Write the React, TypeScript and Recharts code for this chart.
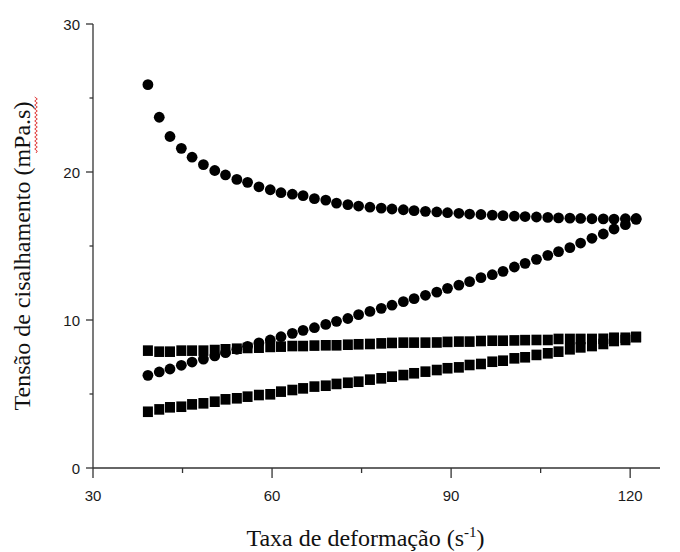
import { ScatterChart, Scatter, XAxis, YAxis, Label } from 'recharts';

// shear rate (s^-1), same grid for every series
const rates = [
  39.2, 41.1, 42.9, 44.8, 46.6, 48.5, 50.4, 52.2, 54.1, 55.9, 57.8, 59.7, 61.5, 63.4, 65.2,
  67.1, 69.0, 70.8, 72.7, 74.5, 76.4, 78.3, 80.1, 82.0, 83.8, 85.7, 87.6, 89.4, 91.3, 93.1,
  95.0, 96.9, 98.7, 100.6, 102.4, 104.3, 106.2, 108.0, 109.9, 111.7, 113.6, 115.5, 117.3, 119.2, 121.0,
];

// circles, descending curve
const circlesDown = [
  25.9, 23.7, 22.4, 21.6, 21.0, 20.5, 20.1, 19.8, 19.5, 19.3, 19.0, 18.8, 18.6, 18.5, 18.4,
  18.2, 18.1, 17.9, 17.8, 17.7, 17.62, 17.56, 17.5, 17.45, 17.39, 17.34, 17.3, 17.25, 17.21, 17.16,
  17.13, 17.09, 17.05, 17.02, 16.99, 16.96, 16.93, 16.9, 16.88, 16.86, 16.84, 16.83, 16.82, 16.84, 16.86,
];

// circles, ascending curve
const circlesUp = [
  6.26, 6.49, 6.69, 6.94, 7.16, 7.36, 7.57, 7.79, 8.02, 8.22, 8.45, 8.65, 8.87, 9.1, 9.3,
  9.48, 9.7, 9.91, 10.1, 10.36, 10.58, 10.79, 11.0, 11.24, 11.44, 11.67, 11.88, 12.14, 12.36, 12.59,
  12.86, 13.06, 13.29, 13.58, 13.83, 14.1, 14.37, 14.62, 14.89, 15.2, 15.52, 15.81, 16.15, 16.44, 16.8,
];

// squares, upper (almost flat)
const squaresTop = [
  7.93, 7.86, 7.86, 7.93, 7.93, 7.93, 7.97, 8.02, 8.06, 8.11, 8.13, 8.18, 8.2, 8.24, 8.24,
  8.27, 8.29, 8.29, 8.33, 8.36, 8.38, 8.42, 8.45, 8.47, 8.47, 8.47, 8.48, 8.52, 8.54, 8.54,
  8.58, 8.6, 8.6, 8.62, 8.64, 8.65, 8.65, 8.72, 8.72, 8.72, 8.72, 8.73, 8.8, 8.8, 8.85,
];

// squares, lower (rising)
const squaresBottom = [
  3.8, 3.96, 4.1, 4.14, 4.3, 4.37, 4.48, 4.64, 4.71, 4.82, 4.93, 4.98, 5.16, 5.27, 5.38,
  5.5, 5.56, 5.68, 5.76, 5.83, 5.97, 6.06, 6.17, 6.28, 6.4, 6.51, 6.62, 6.74, 6.8, 6.96,
  7.03, 7.18, 7.25, 7.41, 7.48, 7.64, 7.75, 7.86, 8.02, 8.15, 8.24, 8.38, 8.58, 8.65, 8.85,
];

const xTicks = [30, 45, 60, 75, 90, 105, 120];
const yTicks = [0, 5, 10, 15, 20, 25, 30];

const INK = '#333';
const tickFont = '"Liberation Sans", Arial, sans-serif';
const titleFont = '"Liberation Serif", "Times New Roman", serif';

const toPoints = (ys: number[]) => rates.map((x, i) => ({ x, y: ys[i] }));

function CircleDot(props: any) {
  const { cx, cy } = props;
  return <circle cx={cx} cy={cy} r={5.4} fill="#000" />;
}

function SquareDot(props: any) {
  const { cx, cy } = props;
  return <rect x={cx - 5} y={cy - 5.3} width={10} height={10.6} fill="#000" />;
}

function XTick(props: any) {
  const { x, y, payload } = props;
  const major = payload.value % 30 === 0;
  return (
    <g>
      <line x1={x} x2={x} y1={y} y2={y + (major ? 10 : 5)} stroke={INK} strokeWidth={1.3} />
      {major && (
        <text x={x} y={y + 33} textAnchor="middle" fontFamily={tickFont} fontSize={15} fill="#1a1a1a">
          {payload.value}
        </text>
      )}
    </g>
  );
}

function YTick(props: any) {
  const { x, y, payload } = props;
  const major = payload.value % 10 === 0;
  return (
    <g>
      <line x1={x - (major ? 7 : 3.5)} x2={x} y1={y} y2={y} stroke={INK} strokeWidth={1.3} />
      {major && (
        <text x={x - 13} y={y + 5.5} textAnchor="end" fontFamily={tickFont} fontSize={15} fill="#1a1a1a">
          {payload.value}
        </text>
      )}
    </g>
  );
}

// spell-checker squiggle under "mPa.s" (vertical, since the title is rotated)
function squiggle(x: number, yFrom: number, yTo: number) {
  let d = `M ${x} ${yFrom}`;
  let side = 1;
  for (let y = yFrom - 2; y >= yTo; y -= 2) {
    d += ` L ${x + side * 1.3} ${y}`;
    side = -side;
  }
  return d;
}

function YTitle(props: any) {
  const vb = props.viewBox || { x: 0, y: 24, height: 444 };
  const cx = 30;
  const cy = vb.y + vb.height / 2 + 10;
  return (
    <g>
      <text
        x={cx}
        y={cy}
        transform={`rotate(-90, ${cx}, ${cy})`}
        textAnchor="middle"
        fontFamily={titleFont}
        fontSize={24}
        fill="#111"
      >
        Tensão de cisalhamento (mPa.s)
      </text>
      <path d={squiggle(cx + 6, cy - 103, cy - 160)} fill="none" stroke="#e03a3a" strokeWidth={1} />
    </g>
  );
}

function XTitle(props: any) {
  const vb = props.viewBox || { x: 93, y: 468, width: 567 };
  const cx = vb.x + vb.width / 2 - 11;
  return (
    <text x={cx} y={546} textAnchor="middle" fontFamily={titleFont} fontSize={24} fill="#111">
      Taxa de deformação (s
      <tspan dy={-9} fontSize={15}>-1</tspan>
      <tspan dy={9}>)</tspan>
    </text>
  );
}

export default function App() {
  return (
    <div style={{ position: 'absolute', left: 0, top: 0, width: 680, height: 552, background: '#fff' }}>
      <ScatterChart width={680} height={552} margin={{ top: 24, right: 20, bottom: 54, left: 0 }}>
        <XAxis
          type="number"
          dataKey="x"
          domain={[30, 125]}
          ticks={xTicks}
          interval={0}
          height={30}
          tickSize={0}
          tickMargin={0}
          tickLine={false}
          tick={<XTick />}
          axisLine={{ stroke: INK, strokeWidth: 1.3 }}
          allowDataOverflow
        >
          <Label content={<XTitle />} />
        </XAxis>
        <YAxis
          type="number"
          dataKey="y"
          domain={[0, 30]}
          ticks={yTicks}
          interval={0}
          width={93}
          tickSize={0}
          tickMargin={0}
          tickLine={false}
          tick={<YTick />}
          axisLine={{ stroke: INK, strokeWidth: 1.3 }}
          allowDataOverflow
        >
          <Label content={<YTitle />} />
        </YAxis>
        <Scatter data={toPoints(squaresBottom)} shape={<SquareDot />} isAnimationActive={false} />
        <Scatter data={toPoints(squaresTop)} shape={<SquareDot />} isAnimationActive={false} />
        <Scatter data={toPoints(circlesUp)} shape={<CircleDot />} isAnimationActive={false} />
        <Scatter data={toPoints(circlesDown)} shape={<CircleDot />} isAnimationActive={false} />
      </ScatterChart>
    </div>
  );
}
